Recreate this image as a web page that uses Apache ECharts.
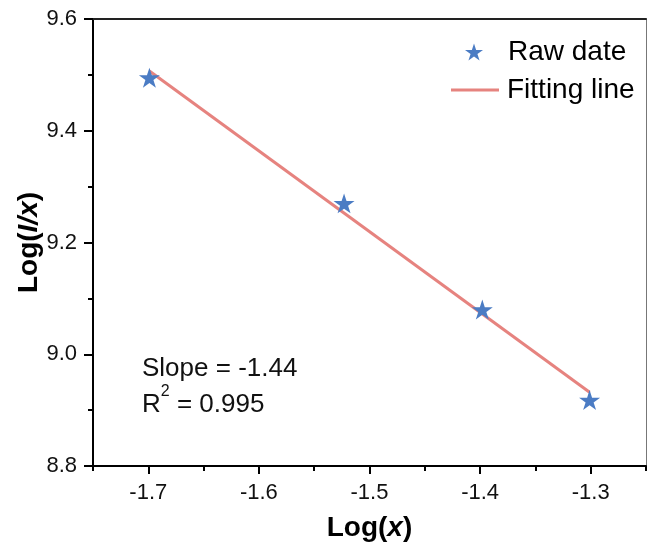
<!DOCTYPE html>
<html>
<head>
<meta charset="utf-8">
<script src="https://cdn.jsdelivr.net/npm/echarts@6/dist/echarts.min.js"></script>
<style>html,body{margin:0;padding:0;background:#fff}#c{width:647px;height:554px}</style>
</head>
<body>
<div id="c"></div>
<script>
// Data
const rawX = [-1.699, -1.523, -1.398, -1.301];
const rawY = [9.495, 9.27, 9.08, 8.918];
const fitX = [-1.699, -1.301];
const fitY = [9.507, 8.932];
const xTicks = [-1.7, -1.6, -1.5, -1.4, -1.3];
const xMinorTicks = [-1.75, -1.65, -1.55, -1.45, -1.35, -1.25];
const yTicks = [8.8, 9.0, 9.2, 9.4, 9.6];
const seriesNames = ['Raw date', 'Fitting line'];
const slopeText = 'Slope = -1.44';
const r2Value = '0.995';

const FONT = 'Liberation Sans, Arial, sans-serif';
const STAR = 'path://M50,0 L61.2,34.5 L97.6,34.5 L68.2,55.9 L79.4,90.5 L50,69.1 L20.6,90.5 L31.8,55.9 L2.4,34.5 L38.8,34.5 Z';
const BLUE = '#4b7cc4';
const RED = '#e6837f';

const chart = echarts.init(document.getElementById('c'), null, {renderer: 'canvas'});
const xMin = -1.75, xMax = -1.25, yMin = 8.8, yMax = 9.6;

chart.setOption({
  backgroundColor: '#fff',
  animation: false,
  grid: {left: 93, right: 1, top: 19, bottom: 88, containLabel: false},
  xAxis: [
    {
      type: 'value', position: 'bottom', min: xMin, max: xMax,
      axisLine: {show: true, onZero: false, lineStyle: {color: '#000', width: 2}},
      axisTick: {show: true, length: 8, customValues: xTicks, lineStyle: {color: '#000', width: 2}},
      axisLabel: {show: true, customValues: xTicks, margin: 16, color: '#111', fontSize: 22, fontFamily: FONT,
        formatter: v => v.toFixed(1)},
      splitLine: {show: false},
      name: '{b|Log(}{i|x}{b|)}', nameLocation: 'middle', nameGap: 48,
      nameTextStyle: {rich: {
        b: {fontSize: 28, fontWeight: 'bold', fontFamily: FONT, color: '#000'},
        i: {fontSize: 28, fontWeight: 'bold', fontStyle: 'italic', fontFamily: FONT, color: '#000'}
      }}
    },
    {
      type: 'value', position: 'bottom', min: xMin, max: xMax,
      axisLine: {show: false, onZero: false},
      axisTick: {show: true, length: 5, customValues: xMinorTicks, lineStyle: {color: '#000', width: 2}},
      axisLabel: {show: false}, splitLine: {show: false}
    },
    {
      type: 'value', position: 'top', min: xMin, max: xMax,
      axisLine: {show: true, onZero: false, lineStyle: {color: '#222', width: 2}},
      axisTick: {show: false}, axisLabel: {show: false}, splitLine: {show: false}
    }
  ],
  yAxis: [
    {
      type: 'value', position: 'left', min: yMin, max: yMax, interval: 0.2,
      axisLine: {show: true, onZero: false, lineStyle: {color: '#000', width: 2}},
      axisTick: {show: true, length: 9, lineStyle: {color: '#000', width: 2}},
      minorTick: {show: true, splitNumber: 2, length: 5, lineStyle: {color: '#000', width: 2}},
      axisLabel: {show: true, customValues: yTicks, margin: 16, color: '#111', fontSize: 22, fontFamily: FONT,
        formatter: v => v.toFixed(1)},
      splitLine: {show: false},
      name: '{b|Log(}{i|I/x}{b|)}', nameLocation: 'middle', nameGap: 50, nameRotate: 90,
      nameMoveOverlap: false,
      nameTextStyle: {rich: {
        b: {fontSize: 28, fontWeight: 'bold', fontFamily: FONT, color: '#000'},
        i: {fontSize: 28, fontWeight: 'bold', fontStyle: 'italic', fontFamily: FONT, color: '#000'}
      }}
    },
    {
      type: 'value', position: 'right', min: yMin, max: yMax,
      axisLine: {show: true, onZero: false, lineStyle: {color: '#777', width: 1}},
      axisTick: {show: false}, axisLabel: {show: false}, splitLine: {show: false}
    }
  ],
  legend: [
    {
      data: [seriesNames[0]], orient: 'vertical', left: 460, top: 33,
      itemWidth: 18, itemHeight: 18,
      textStyle: {fontSize: 28, fontFamily: FONT, color: '#000', padding: [0, 0, 0, 20]}
    },
    {
      data: [{name: seriesNames[1], icon: 'rect'}], orient: 'vertical', left: 446, top: 71,
      itemWidth: 48, itemHeight: 3,
      textStyle: {fontSize: 28, fontFamily: FONT, color: '#000', padding: [0, 0, 0, 3]}
    }
  ],
  graphic: [
    {
      type: 'text', left: 142, top: 356,
      style: {text: slopeText, fontSize: 26, fontFamily: FONT, fill: '#111'}
    },
    {
      type: 'text', left: 142, top: 384,
      style: {
        text: '{n|R}{s|2}{n| = ' + r2Value + '}',
        rich: {
          n: {fontSize: 26, fontFamily: FONT, fill: '#111', color: '#111', verticalAlign: 'bottom', lineHeight: 34},
          s: {fontSize: 16, fontFamily: FONT, fill: '#111', color: '#111', verticalAlign: 'top', lineHeight: 34, padding: [0, 0, 11, 0]}
        }
      }
    }
  ],
  series: [
    {
      name: seriesNames[1], type: 'line', xAxisIndex: 0, yAxisIndex: 0,
      data: fitX.map((x, i) => [x, fitY[i]]),
      showSymbol: false, symbol: 'none',
      lineStyle: {color: RED, width: 3}, itemStyle: {color: RED}, z: 2
    },
    {
      name: seriesNames[0], type: 'scatter', xAxisIndex: 0, yAxisIndex: 0,
      data: rawX.map((x, i) => [x, rawY[i]]),
      symbol: STAR, symbolSize: 21, symbolKeepAspect: true,
      itemStyle: {color: BLUE, opacity: 1}, z: 3
    }
  ]
});
</script>
</body>
</html>
